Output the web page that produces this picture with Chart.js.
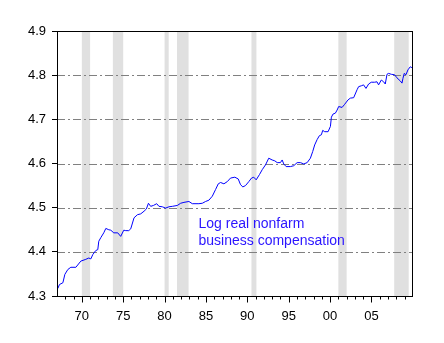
<!DOCTYPE html>
<html>
<head>
<meta charset="utf-8">
<script src="https://cdn.jsdelivr.net/npm/chart.js@4.4.1/dist/chart.umd.min.js"></script>
<style>
  html, body { margin: 0; padding: 0; background: #fff; }
  #wrap { width: 444px; height: 343px; }
</style>
</head>
<body>
<div id="wrap"><canvas id="compChart"></canvas></div>
<script>
// observation dates (decimal years) and log real nonfarm business compensation
const obsDates = [
    1967.10, 1967.30, 1967.71, 1967.95, 1968.31, 1968.67, 1969.28, 1969.88, 1970.48, 1970.84,
    1971.09, 1971.33, 1971.69, 1971.93, 1972.05, 1972.29, 1972.65, 1972.90, 1973.26, 1973.50,
    1973.86, 1974.34, 1974.70, 1975.07, 1975.31, 1975.67, 1975.91, 1976.31, 1976.72, 1977.12,
    1977.52, 1977.80, 1978.05, 1978.32, 1978.65, 1979.05, 1979.32, 1979.73, 1980.13, 1980.53,
    1980.94, 1981.54, 1981.94, 1982.34, 1982.94, 1983.35, 1984.15, 1984.56, 1984.96, 1985.36,
    1985.77, 1986.16, 1986.49, 1986.77, 1987.17, 1987.58, 1987.97, 1988.49, 1988.90, 1989.18,
    1989.46, 1989.78, 1990.18, 1990.51, 1990.78, 1991.07, 1991.47, 1991.80, 1992.20, 1992.59,
    1993.00, 1993.32, 1993.61, 1994.00, 1994.21, 1994.40, 1994.69, 1995.21, 1995.61, 1996.02,
    1996.42, 1996.82, 1997.23, 1997.62, 1997.90, 1998.14, 1998.43, 1998.71, 1998.95, 1999.11,
    1999.35, 1999.76, 2000.04, 2000.16, 2000.36, 2000.64, 2000.85, 2001.04, 2001.45, 2001.76,
    2002.17, 2002.45, 2002.85, 2003.26, 2003.45, 2003.78, 2004.05, 2004.34, 2004.66, 2004.98,
    2005.38, 2005.67, 2005.86, 2006.19, 2006.47, 2006.67, 2006.88, 2007.07, 2007.40, 2007.79,
    2008.08, 2008.48, 2008.69, 2008.81, 2008.96, 2009.17, 2009.41, 2009.69, 2009.89
];
const logComp = [
    4.317, 4.326, 4.330, 4.349, 4.360, 4.365, 4.365, 4.379, 4.383, 4.386,
    4.384, 4.394, 4.403, 4.405, 4.424, 4.432, 4.443, 4.453, 4.450, 4.449,
    4.443, 4.443, 4.435, 4.449, 4.448, 4.448, 4.452, 4.477, 4.484, 4.486,
    4.492, 4.497, 4.510, 4.503, 4.505, 4.509, 4.503, 4.502, 4.499, 4.502,
    4.503, 4.505, 4.510, 4.512, 4.514, 4.509, 4.509, 4.510, 4.514, 4.517,
    4.526, 4.541, 4.554, 4.557, 4.554, 4.559, 4.567, 4.569, 4.565, 4.552,
    4.547, 4.550, 4.559, 4.567, 4.569, 4.563, 4.575, 4.586, 4.597, 4.612,
    4.608, 4.606, 4.602, 4.602, 4.608, 4.599, 4.593, 4.593, 4.595, 4.602,
    4.602, 4.599, 4.602, 4.612, 4.627, 4.642, 4.654, 4.663, 4.665, 4.675,
    4.672, 4.672, 4.684, 4.705, 4.712, 4.714, 4.721, 4.729, 4.727, 4.734,
    4.744, 4.748, 4.749, 4.767, 4.774, 4.776, 4.778, 4.770, 4.780, 4.784,
    4.784, 4.785, 4.778, 4.789, 4.785, 4.780, 4.802, 4.804, 4.802, 4.801,
    4.794, 4.787, 4.782, 4.793, 4.804, 4.801, 4.812, 4.819, 4.817
];

// NBER recessions (shaded)
const recessionStarts = [1970.0, 1973.75, 1980.0, 1981.5, 1990.5, 2001.0, 2007.75];
const recessionEnds   = [1971.0, 1975.0, 1980.5, 1982.9, 1991.1, 2002.0, 2009.5];

const yTicks = [4.3, 4.4, 4.5, 4.6, 4.7, 4.8, 4.9];
const gridValues = [4.4, 4.5, 4.6, 4.7, 4.8];
const labelLines = ['Log real nonfarm', 'business compensation'];

const FONT = '"Liberation Sans", Arial, sans-serif';

const backdropPlugin = {
    id: 'backdrop',
    beforeDatasetsDraw(chart) {
        const { ctx, chartArea, scales } = chart;
        ctx.save();
        // recession bars
        ctx.fillStyle = '#e0e0e0';
        recessionStarts.forEach((start, i) => {
            const x1 = scales.x.getPixelForValue(start);
            const x2 = scales.x.getPixelForValue(recessionEnds[i]);
            ctx.fillRect(x1, chartArea.top, x2 - x1, chartArea.bottom - chartArea.top);
        });
        // dash-dot grid lines
        ctx.strokeStyle = '#808080';
        ctx.lineWidth = 1;
        ctx.setLineDash([8, 3, 2, 3]);
        gridValues.forEach(v => {
            const y = Math.round(scales.y.getPixelForValue(v)) + 0.5;
            ctx.beginPath();
            ctx.moveTo(chartArea.left, y);
            ctx.lineTo(chartArea.right, y);
            ctx.stroke();
        });
        ctx.restore();
    },
    afterDatasetsDraw(chart) {
        const { ctx, chartArea, scales } = chart;
        ctx.save();
        ctx.strokeStyle = '#000';
        ctx.lineWidth = 1;
        const l = Math.round(chartArea.left) + 0.5;
        const t = Math.round(chartArea.top) + 0.5;
        const r = Math.round(chartArea.right) + 0.5;
        const b = Math.round(chartArea.bottom) + 0.5;
        ctx.strokeRect(l, t, r - l, b - t);
        // year ticks along the bottom
        ctx.beginPath();
        for (let yr = 1968; yr <= 2009; yr++) {
            const x = Math.round(scales.x.getPixelForValue(yr)) + 0.5;
            const len = yr % 5 === 0 ? 6 : 3;
            ctx.moveTo(x, b);
            ctx.lineTo(x, b + len);
        }
        ctx.stroke();
        // annotation
        ctx.fillStyle = '#2a14ff';
        ctx.font = '14px ' + FONT;
        ctx.textBaseline = 'alphabetic';
        const tx = scales.x.getPixelForValue(1984.1);
        const ty = scales.y.getPixelForValue(4.454);
        labelLines.forEach((line, i) => ctx.fillText(line, tx, ty + i * 17));
        ctx.restore();
    }
};

const chart = new Chart(document.getElementById('compChart'), {
    type: 'line',
    data: {
        datasets: [{
            data: obsDates.map((d, i) => ({ x: d, y: logComp[i] })),
            borderColor: '#0000ff',
            borderWidth: 1,
            pointRadius: 0,
            tension: 0,
            fill: false
        }]
    },
    options: {
        responsive: true,
        maintainAspectRatio: false,
        animation: false,
        layout: { padding: { left: 0, right: 32, top: 31, bottom: 0 } },
        plugins: {
            legend: { display: false },
            tooltip: { enabled: false }
        },
        scales: {
            x: {
                type: 'linear',
                min: 1967,
                max: 2009.9,
                afterBuildTicks: axis => {
                    axis.ticks = [1970, 1975, 1980, 1985, 1990, 1995, 2000, 2005].map(v => ({ value: v }));
                },
                afterFit: axis => { axis.height = 47; },
                grid: { display: false },
                border: { display: false },
                ticks: {
                    autoSkip: false,
                    maxRotation: 0,
                    padding: 5,
                    color: '#000',
                    font: { family: FONT, size: 13 },
                    callback: v => String(v % 100).padStart(2, '0')
                }
            },
            y: {
                min: 4.3,
                max: 4.9,
                afterBuildTicks: axis => {
                    axis.ticks = yTicks.map(v => ({ value: v }));
                },
                afterFit: axis => { axis.width = 57; },
                grid: { drawOnChartArea: false, tickLength: 5, color: '#000' },
                border: { display: false },
                ticks: {
                    padding: 6,
                    color: '#000',
                    font: { family: FONT, size: 13 },
                    callback: v => v.toFixed(1)
                }
            }
        }
    },
    plugins: [backdropPlugin]
});
</script>
</body>
</html>
